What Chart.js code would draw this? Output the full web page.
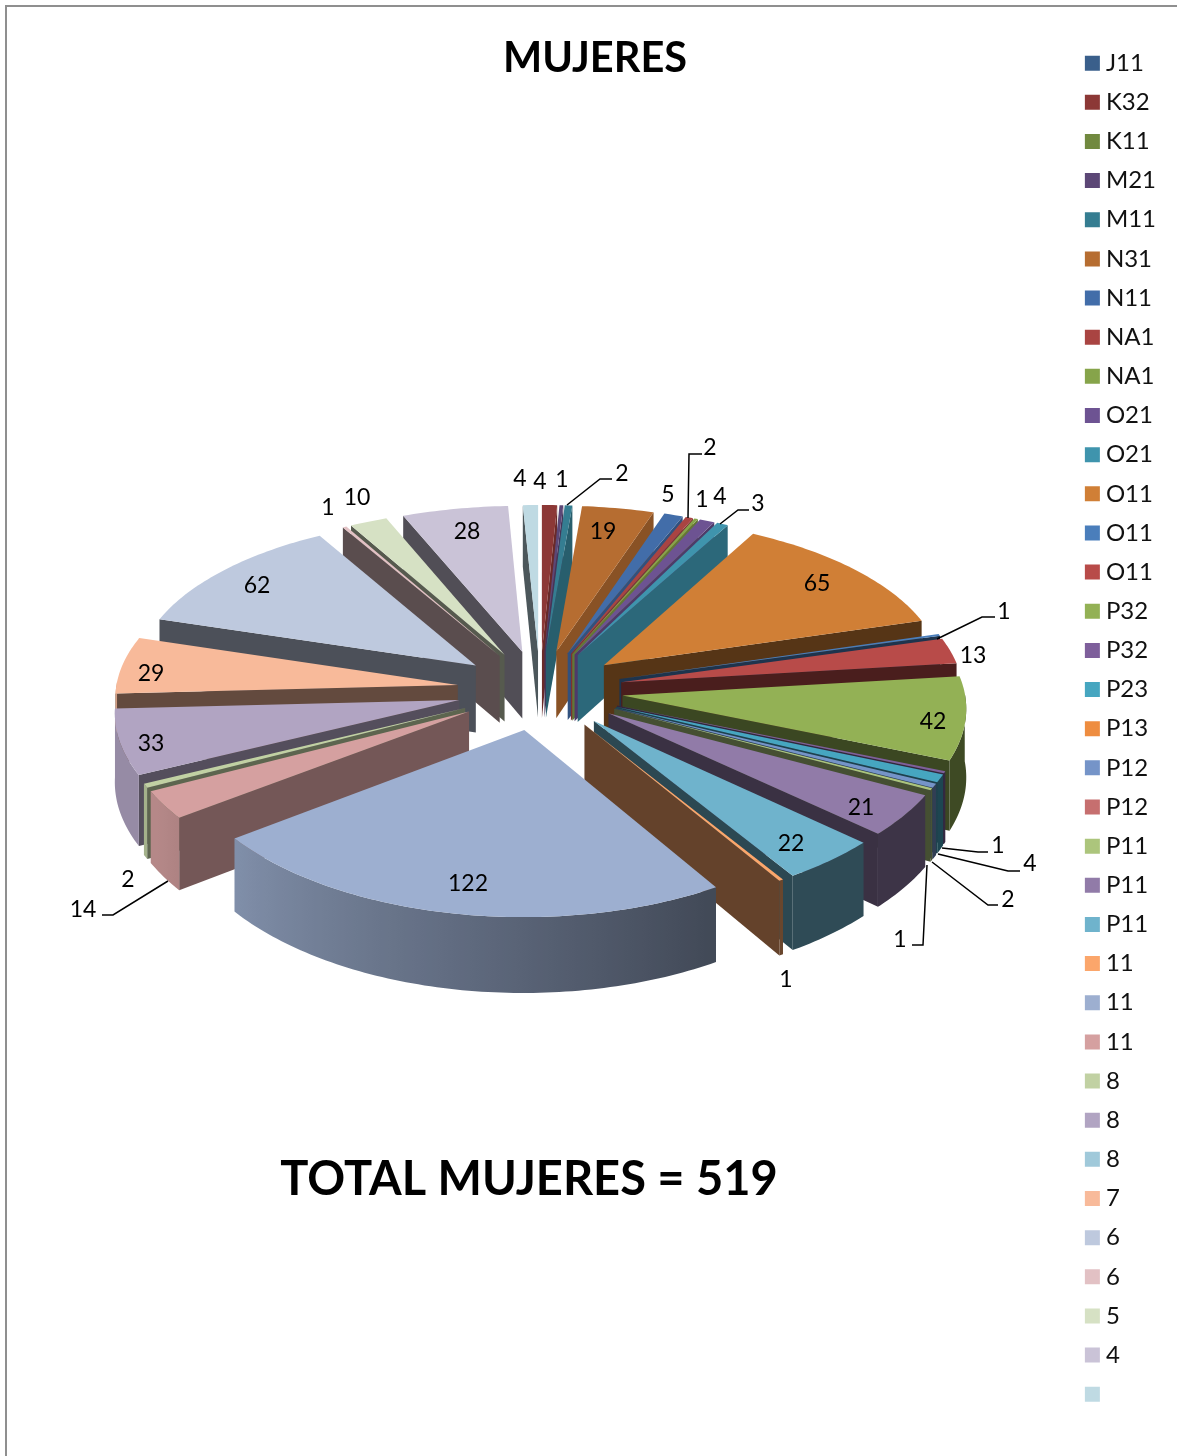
<!DOCTYPE html>
<html>
<head>
<meta charset="utf-8">
<title>MUJERES</title>
<script src="https://cdn.jsdelivr.net/npm/chart.js@4"></script>
<style>
    html, body { margin: 0; background: #fff; }
    #frame { position: absolute; left: 5px; top: 5px; width: 1172px; height: 1451px; border-left: 2px solid #8f8f8f; border-top: 2px solid #8f8f8f; box-sizing: border-box; }
    canvas { position: absolute; left: 0; top: 0; }
</style>
</head>
<body>
<div id="frame"></div>
<canvas id="pie" width="1177" height="1456"></canvas>
<script>
// Data
const categories = ['J11', 'K32', 'K11', 'M21', 'M11', 'N31', 'N11', 'NA1', 'NA1', 'O21', 'O21', 'O11', 'O11', 'O11',
    'P32', 'P32', 'P23', 'P13', 'P12', 'P12', 'P11', 'P11', 'P11', '11', '11', '11', '8', '8', '8', '7', '6', '6', '5', '4', ''];
const values = [0, 4, 0, 1, 2, 19, 5, 2, 1, 4, 3, 65, 1, 13,
    42, 1, 4, 0, 2, 0, 1, 21, 22, 1, 122, 14, 2, 33, 0, 29, 62, 1, 10, 28, 4];
const colors = ['#3a5f8b', '#8c3836', '#71893f', '#5c4776', '#357d91', '#b66d31', '#426da9', '#a94442', '#86a44a', '#6d5392', '#3f94ad',
    '#d07f36', '#4a7ebb', '#b84b49', '#93b155', '#7e5f9b', '#46a6c0', '#ee8d40', '#7594c8', '#c66f6f', '#acc57c', '#917ba8', '#6fb3cc',
    '#fba66b', '#9dafd0', '#d5a0a0', '#c1d1a3', '#b1a4c2', '#a0c9da', '#f8ba9a', '#bec9de', '#e2c1c4', '#d6e1c4', '#cac3d7', '#bfdae3'];
const titleText = 'MUJERES';
const totalText = 'TOTAL MUJERES = ' + values.reduce((a, b) => a + b, 0);

// Text placement for the value labels, by category index
const labelSpots = {
    34: [520, 478], 1: [540, 481], 3: [562, 479], 4: [622, 473], 5: [603, 531], 6: [668, 494], 7: [710, 447], 8: [702, 499],
    9: [720, 496], 10: [758, 503], 11: [817, 583], 12: [1004, 611], 13: [973, 655], 14: [933, 721], 15: [998, 845],
    16: [1030, 863], 18: [1008, 899], 20: [900, 939], 21: [861, 807], 22: [791, 843], 23: [786, 979], 24: [468, 883],
    25: [83, 909], 26: [128, 879], 27: [151, 743], 29: [151, 673], 30: [257, 585], 31: [328, 507], 32: [357, 497], 33: [467, 531]
};
const leaderLines = [
    [[567, 505], [600, 479], [612, 479]],
    [[688, 518], [689, 454], [702, 454]],
    [[720, 524], [738, 510], [749, 510]],
    [[937, 639], [982, 617], [995, 617]],
    [[942, 848], [978, 852], [988, 852]],
    [[938, 854], [1008, 871], [1020, 871]],
    [[932, 862], [988, 905], [998, 905]],
    [[927, 865], [923, 945], [912, 945]],
    [[168, 881], [113, 915], [102, 915]]
];

// Projection of the flat pie onto the tilted view
const view = { cx: 540, cy: 690, tilt: 0.4806, perspX: 0.00019, perspY: 0.000245, depth: 68 };

function project(dx, dy, z) {
    const sx = 1 / (1 - view.perspX * dy);
    const sy = 1 / (1 - view.perspY * dy);
    return { x: view.cx + dx * sx, y: view.cy + view.tilt * dy * sy + z * sy };
}

function shade(hex, f) {
    const n = parseInt(hex.slice(1), 16);
    return `rgb(${Math.round((n >> 16) * f)}, ${Math.round(((n >> 8) & 255) * f)}, ${Math.round((n & 255) * f)})`;
}

// clockwise degrees from the top of the pie
function clockDeg(a) {
    return ((a + Math.PI / 2) * 180 / Math.PI + 360) % 360;
}

function cutFactor(n) {
    n = (n + 360) % 360;
    if (n <= 111) return 0.75;
    if (n >= 166) return 0.4;
    return 0.75 - (n - 111) / 55 * 0.35;
}

function rimFactor(deg) {
    if (deg <= 150) return 0.42;
    if (deg >= 240) return 0.85;
    return 0.42 + (deg - 150) / 90 * 0.43;
}

function fillPoly(ctx, pts, color) {
    ctx.beginPath();
    pts.forEach((p, i) => i ? ctx.lineTo(p.x, p.y) : ctx.moveTo(p.x, p.y));
    ctx.closePath();
    ctx.fillStyle = color;
    ctx.fill();
}

function drawSlice(ctx, arc, color) {
    const { startAngle, endAngle, outerRadius } = arc;
    const mid = (startAngle + endAngle) / 2;
    const ox = Math.cos(mid) * arc.options.offset;
    const oy = Math.sin(mid) * arc.options.offset;
    const at = (a, r, z) => project(ox + Math.cos(a) * r, oy + Math.sin(a) * r, z);
    const d = view.depth;

    const apex = at(mid, 0, 0), apexLow = at(mid, 0, d);
    const first = at(startAngle, outerRadius, 0), last = at(endAngle, outerRadius, 0);

    // cut faces, only the ones turned to the viewer
    if (first.x < apex.x) {
        fillPoly(ctx, [apex, first, at(startAngle, outerRadius, d), apexLow], shade(color, cutFactor(clockDeg(startAngle) - 90)));
    }
    if (last.x > apex.x) {
        fillPoly(ctx, [apex, last, at(endAngle, outerRadius, d), apexLow], shade(color, cutFactor(clockDeg(endAngle) + 90)));
    }

    // sample the edge; the part facing the viewer becomes the rim
    const step = Math.PI / 180;
    const angles = [];
    for (let a = startAngle; a < endAngle; a += step) angles.push(a);
    angles.push(endAngle);

    const front = angles.filter(a => Math.sin(a) > -0.03);
    if (front.length > 1) {
        const x0 = at(front[0], outerRadius, 0).x;
        const x1 = at(front[front.length - 1], outerRadius, 0).x;
        let fill = shade(color, rimFactor(clockDeg(front[0])));
        if (Math.abs(x1 - x0) > 0.5) {
            fill = ctx.createLinearGradient(x0, 0, x1, 0);
            front.forEach(a => {
                const t = (at(a, outerRadius, 0).x - x0) / (x1 - x0);
                fill.addColorStop(Math.min(1, Math.max(0, t)), shade(color, rimFactor(clockDeg(a))));
            });
        }
        const rim = front.map(a => at(a, outerRadius, 0)).concat(front.slice().reverse().map(a => at(a, outerRadius, d)));
        fillPoly(ctx, rim, fill);
    }

    fillPoly(ctx, [apex].concat(angles.map(a => at(a, outerRadius, 0))), color);
}

const pie3d = {
    id: 'pie3d',
    beforeDatasetDraw() {
        return false; // slices are painted below, back to front
    },
    afterDatasetsDraw(chart) {
        const ctx = chart.ctx;
        const arcs = chart.getDatasetMeta(0).data;
        const order = arcs.map((arc, i) => i).filter(i => values[i] > 0);
        order.sort((p, q) => Math.sin((arcs[p].startAngle + arcs[p].endAngle) / 2) - Math.sin((arcs[q].startAngle + arcs[q].endAngle) / 2));

        ctx.save();
        order.forEach(i => drawSlice(ctx, arcs[i], colors[i]));

        ctx.strokeStyle = '#000';
        ctx.lineWidth = 1.5;
        leaderLines.forEach(line => {
            ctx.beginPath();
            line.forEach((p, i) => i ? ctx.lineTo(p[0], p[1]) : ctx.moveTo(p[0], p[1]));
            ctx.stroke();
        });

        ctx.fillStyle = '#000';
        ctx.textAlign = 'center';
        ctx.textBaseline = 'middle';
        ctx.font = '23px Lato';
        order.forEach(i => {
            const spot = labelSpots[i];
            if (spot) ctx.fillText(String(values[i]), spot[0], spot[1] + 1);
        });

        ctx.font = 'bold 47px Lato';
        ctx.fillText(totalText, 529, 1180);
        ctx.restore();
    }
};

new Chart(document.getElementById('pie'), {
    type: 'pie',
    data: {
        labels: categories,
        datasets: [{
            data: values,
            backgroundColor: colors,
            borderWidth: 0,
            offset: 83,
            hoverOffset: 0,
            radius: 342
        }]
    },
    options: {
        responsive: false,
        animation: false,
        layout: { padding: { left: 24, top: 36, right: 11 } },
        plugins: {
            tooltip: { enabled: false },
            title: {
                display: true,
                text: titleText,
                color: '#000',
                font: { family: 'Lato', size: 41.5, weight: 'bold', lineHeight: 1.1 },
                padding: { top: 0, bottom: 0 }
            },
            legend: {
                position: 'right',
                align: 'start',
                labels: {
                    color: '#111',
                    font: { family: 'Lato', size: 24 },
                    usePointStyle: true,
                    pointStyle: 'rect',
                    boxWidth: 3,
                    boxHeight: 15,
                    padding: 15.15
                }
            }
        }
    },
    plugins: [pie3d]
});
</script>
</body>
</html>
